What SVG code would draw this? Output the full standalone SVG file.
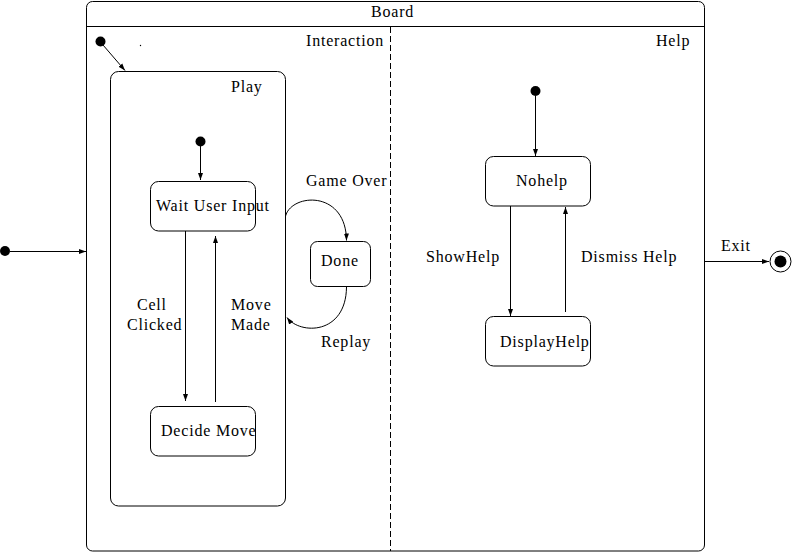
<svg xmlns="http://www.w3.org/2000/svg" width="792" height="552" viewBox="0 0 792 552">
<style>
.box{fill:none;stroke:#000;stroke-width:1}
.ln{fill:none;stroke:#000;stroke-width:1;marker-end:url(#ah)}
.dot{fill:#000}
text{font-family:'Liberation Serif','Times New Roman',Times,serif;font-size:16px;letter-spacing:0.8px;fill:#000}
</style>
<defs>
<marker id="ah" markerUnits="userSpaceOnUse" markerWidth="8" markerHeight="6" refX="7" refY="3" orient="auto">
<path d="M0,0.5 L7,3 L0,5.5 z" fill="#000"/>
</marker>
</defs>
<rect width="792" height="552" fill="#fff"/>
<g id="board">
<rect class="box" x="86.5" y="1.5" width="618" height="549.5" rx="6"/>
<line x1="86.5" y1="26.5" x2="704.5" y2="26.5" stroke="#000"/>
<text x="371" y="17">Board</text>
<line x1="390.5" y1="27" x2="390.5" y2="551" stroke="#000" stroke-dasharray="6 3"/>
<text x="306" y="46">Interaction</text>
<text x="656" y="46">Help</text>
</g>
<g id="play">
<rect class="box" x="110.5" y="71.5" width="175" height="434.5" rx="8"/>
<text x="231" y="92">Play</text>
</g>
<g id="wait">
<rect class="box" x="150.5" y="181.5" width="105" height="49.5" rx="8"/>
<text x="156" y="211">Wait User Input</text>
</g>
<g id="decide">
<rect class="box" x="150.5" y="406.5" width="105" height="49.5" rx="8"/>
<text x="161" y="436">Decide Move</text>
</g>
<g id="done">
<rect class="box" x="310.5" y="241.5" width="60" height="45" rx="7"/>
<text x="321" y="266">Done</text>
</g>
<g id="nohelp">
<rect class="box" x="485.5" y="156.5" width="105" height="49.5" rx="8"/>
<text x="516" y="186">Nohelp</text>
</g>
<g id="displayhelp">
<rect class="box" x="485.5" y="316.5" width="105" height="49.5" rx="8"/>
<text x="500" y="347">DisplayHelp</text>
</g>
<g id="initials">
<circle class="dot" cx="5" cy="251" r="5"/>
<circle class="dot" cx="100.5" cy="41.5" r="5"/>
<circle class="dot" cx="200.5" cy="141.5" r="5"/>
<circle class="dot" cx="535.5" cy="91" r="5"/>
<circle class="dot" cx="140.5" cy="45.5" r="0.7"/>
</g>
<g id="final">
<circle cx="780.5" cy="261.5" r="10.5" fill="none" stroke="#000"/>
<circle class="dot" cx="780.5" cy="261.5" r="6"/>
</g>
<g id="connectors">
<line class="ln" x1="10" y1="251.5" x2="86" y2="251.5"/>
<line class="ln" x1="103" y1="45" x2="125" y2="70.5"/>
<line class="ln" x1="200.5" y1="146" x2="200.5" y2="180"/>
<line class="ln" x1="185.5" y1="231" x2="185.5" y2="401"/>
<line class="ln" x1="215.5" y1="402" x2="215.5" y2="236"/>
<path class="ln" d="M285.5,216 C292,193 346,190 346.5,240.5"/>
<path class="ln" d="M346.5,287 C346,335 300,335 287,317.5"/>
<line class="ln" x1="535.5" y1="96" x2="535.5" y2="156"/>
<line class="ln" x1="510.5" y1="206" x2="510.5" y2="316"/>
<line class="ln" x1="565.5" y1="312" x2="565.5" y2="207"/>
<line class="ln" x1="705" y1="261.5" x2="769" y2="261.5"/>
<text x="137" y="310">Cell</text>
<text x="127" y="330">Clicked</text>
<text x="231" y="310">Move</text>
<text x="231" y="330">Made</text>
<text x="306" y="186">Game Over</text>
<text x="321" y="347">Replay</text>
<text x="426" y="262">ShowHelp</text>
<text x="581" y="262">Dismiss Help</text>
<text x="721" y="251">Exit</text>
</g>
</svg>
